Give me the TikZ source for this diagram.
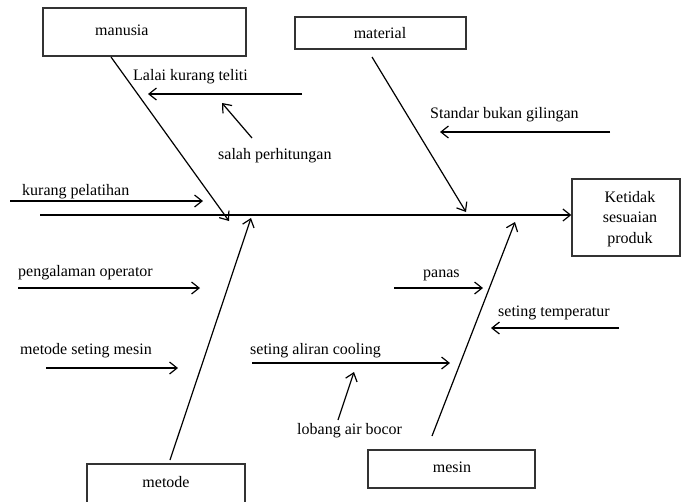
\documentclass[tikz,border=0pt]{standalone}
\usepackage{fontspec}
\setmainfont{Liberation Serif}
\usetikzlibrary{arrows.meta}
\begin{document}
\begin{tikzpicture}[x=1pt,y=-1pt,
  box/.style={draw=black!80,line width=1.3pt,rectangle,inner sep=0pt},
  lbl/.style={inner sep=0pt,anchor=base west,font=\fontsize{16}{20}\selectfont},
  clbl/.style={inner sep=0pt,anchor=base,font=\fontsize{16}{20}\selectfont},
  bone/.style={line width=1.2pt,-{Straight Barb[length=7.5pt,width=12pt,line width=1.2pt]}}]
\useasboundingbox (0,0) rectangle (682,501);
\clip (0,0) rectangle (682,501);
% boxes
\node[box,minimum width=203pt,minimum height=48pt] (manusia) at (144.5,32) {};
\node[box,minimum width=171pt,minimum height=32pt] (material) at (380.5,33) {};
\node[box,minimum width=108pt,minimum height=77pt] (hasil) at (626,217.5) {};
\node[box,minimum width=158pt,minimum height=60pt] (metode) at (166,494) {};
\node[box,minimum width=167pt,minimum height=38pt] (mesin) at (451.5,469) {};
% box texts
\node[lbl] (tmanusia) at (95,35) {manusia};
\node[clbl] (tmaterial) at (380,38) {material};
\node[clbl] (thasil1) at (630,202) {Ketidak};
\node[clbl] (thasil2) at (630,222.5) {sesuaian};
\node[clbl] (thasil3) at (630,243) {produk};
\node[clbl] (tmetode) at (166,487) {metode};
\node[clbl] (tmesin) at (452,472) {mesin};
% labels
\node[lbl] (tlalai) at (133,80) {Lalai kurang teliti};
\node[lbl] (tsalah) at (218,159) {salah perhitungan};
\node[lbl] (tkurang) at (22,195) {kurang pelatihan};
\node[lbl] (tstandar) at (430,118) {Standar bukan gilingan};
\node[lbl] (tpengalaman) at (18,276) {pengalaman operator};
\node[lbl] (tmetodeset) at (20,354) {metode seting mesin};
\node[lbl] (taliran) at (250,354) {seting aliran cooling};
\node[lbl] (tlobang) at (297,434) {lobang air bocor};
\node[lbl] (tpanas) at (423,277) {panas};
\node[lbl] (ttemp) at (498,316) {seting temperatur};
% coordinates
\coordinate (sp0) at (40,215);
\coordinate (m0) at (111,57);   \coordinate (m1) at (229,221);
\coordinate (ma0) at (372,57);  \coordinate (ma1) at (466,212);
\coordinate (me0) at (170,460); \coordinate (me1) at (251,218);
\coordinate (ms0) at (432,436); \coordinate (ms1) at (515,222);
\coordinate (la0) at (302,94);  \coordinate (la1) at (148,94);
\coordinate (sa0) at (252,138); \coordinate (sa1) at (222,103);
\coordinate (ku0) at (10,201);  \coordinate (ku1) at (203,201);
\coordinate (st0) at (610,132); \coordinate (st1) at (440,132);
\coordinate (pe0) at (18,288);  \coordinate (pe1) at (200,288);
\coordinate (mt0) at (46,368);  \coordinate (mt1) at (178,368);
\coordinate (al0) at (252,363); \coordinate (al1) at (450,363);
\coordinate (lo0) at (338,420); \coordinate (lo1) at (354,372);
\coordinate (pa0) at (394,288); \coordinate (pa1) at (483,288);
\coordinate (te0) at (619,328); \coordinate (te1) at (491,328);
% spine and bones
\draw[bone] (sp0) -- (sp0 -| hasil.west);
\draw[bone] (m0) -- (m1);
\draw[bone] (ma0) -- (ma1);
\draw[bone] (me0) -- (me1);
\draw[bone] (ms0) -- (ms1);
% sub causes
\draw[bone] (la0) -- (la1);
\draw[bone] (sa0) -- (sa1);
\draw[bone] (ku0) -- (ku1);
\draw[bone] (st0) -- (st1);
\draw[bone] (pe0) -- (pe1);
\draw[bone] (mt0) -- (mt1);
\draw[bone] (al0) -- (al1);
\draw[bone] (lo0) -- (lo1);
\draw[bone] (pa0) -- (pa1);
\draw[bone] (te0) -- (te1);
\end{tikzpicture}
\end{document}
